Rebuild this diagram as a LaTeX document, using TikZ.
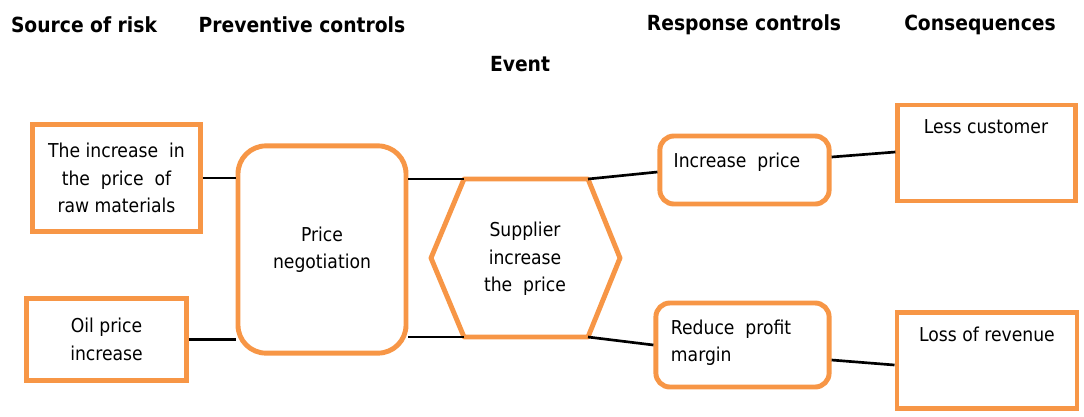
\documentclass[tikz,border=0pt]{standalone}
\usepackage{fontspec}
\setmainfont{DejaVu Sans Condensed}
\usepackage{xcolor}
\definecolor{boxorange}{HTML}{F79646}

\tikzset{
  head/.style={font=\fontsize{14.8}{17}\selectfont\bfseries},
  txt/.style={font=\fontsize{13.6}{19.5}\selectfont},
  sqbox/.style={draw=boxorange, line width=3.5pt, txt, align=center},
  rbox/.style={sqbox, rounded corners=0.35cm},
  link/.style={line width=1.9pt}
}

\begin{document}
\begin{tikzpicture}[x=0.025cm, y=-0.025cm]
        \useasboundingbox (0,0) rectangle (1084,416);
        % column headings
        \node[head](hsrc) at (84,25) {Source of risk};
        \node[head](hprev) at (302,25) {Preventive controls};
        \node[head](hevent) at (520,64) {Event};
        \node[head](hresp) at (744,25) {Response controls};
        \node[head](hcons) at (980,25) {Consequences};
        % sources
        \node[sqbox, minimum width=4.2cm, minimum height=2.67cm](cause1) at (116.5,178) {The increase~ in\\ the~ price~ of\\ raw materials};
        \node[sqbox, minimum width=3.98cm, minimum height=2.03cm](cause2) at (106.5,339.5) {Oil price\\ increase};
        % preventive control
        \node[rbox, rounded corners=0.7cm, minimum width=4.2cm, minimum height=5.18cm](prevent) at (322,249.5) {Price\\ negotiation};
        % event
        \coordinate(evl) at (431,258);
        \coordinate(evtl) at (464,179);
        \coordinate(evtr) at (588,179);
        \coordinate(evr) at (620,258);
        \coordinate(evbr) at (588,337);
        \coordinate(evbl) at (464,337);
        \draw[draw=boxorange, line width=3.5pt, line join=round] (evl)--(evtl)--(evtr)--(evr)--(evbr)--(evbl)--cycle;
        \node[txt, align=center](event) at (525,259) {Supplier\\ increase\\ the~ price};
        % response controls
        \node[rbox, minimum width=4.23cm, minimum height=1.7cm](resp1) at (744.5,170) {};
        \node[txt](resp1txt) at (737,162) {Increase~ price};
        \node[rbox, minimum width=4.33cm, minimum height=2.1cm](resp2) at (742.5,345) {};
        \node[txt, align=left, anchor=west](resp2txt) at (666,343) {Reduce~ profit\\ margin};
        % consequences
        \node[sqbox, minimum width=4.43cm, minimum height=2.4cm](cons1) at (986.5,153) {};
        \node[txt](cons1txt) at (986,127) {Less customer};
        \node[sqbox, minimum width=4.5cm, minimum height=2.38cm](cons2) at (987,360.5) {};
        \node[txt](cons2txt) at (987,334) {Loss of revenue};
        % connectors
        \draw[link](cause1.east)--(prevent.west |- cause1.east);
        \draw[link](cause2.east)--(prevent.west |- cause2.east);
        \draw[link](prevent.east |- evtl)--(evtl);
        \draw[link](prevent.east |- evbl)--(evbl);
        \draw[link](evtr)--(resp1.west |- 0,172);
        \draw[link](evbr)--(resp2.west |- 0,345);
        \draw[link](resp1.east |- 0,157)--(cons1.west |- 0,152);
        \draw[link](resp2.east |- 0,360)--(cons2.west |- 0,365);
        \end{tikzpicture}
\end{document}
